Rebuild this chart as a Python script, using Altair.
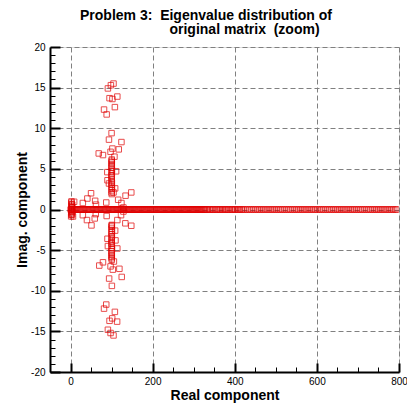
import altair as alt
import pandas as pd

# ---- data ----
# eigenvalues lying on the real axis (imag = 0)
real_axis_re = [0.3, 1.5, 3.2, 5.0, 7.4, 9.8, 12.1, 14.6, 17.0, 19.3, 21.9, 24.3, 26.7, 29.2, 31.8,
                34.1, 36.5, 39.0, 41.6, 43.9, 46.3, 48.8, 51.4, 53.7, 56.1, 58.6, 61.2, 63.5, 65.9,
                68.4, 71.0, 73.3, 75.7, 78.2, 80.8, 83.1, 85.5, 88.0, 90.6, 92.9, 95.3, 97.8, 100.4,
                102.7, 105.1, 107.6, 110.2, 112.5, 114.9, 117.4, 120.0, 122.3, 124.7, 127.2, 129.8,
                132.1, 134.5, 137.0, 139.6, 141.9, 144.3, 146.8, 149.4, 151.7, 154.1, 156.6, 159.2,
                161.5, 163.9, 166.4, 169.0, 171.3, 173.7, 176.2, 178.8, 181.1, 183.5, 186.0, 188.6,
                190.9, 193.3, 195.8, 198.4, 200.7, 203.1, 205.6, 208.2, 210.5, 212.9, 215.4, 218.0,
                220.3, 222.7, 225.2, 227.8, 230.1, 232.5, 235.0, 237.6, 239.9, 242.3, 244.8, 247.4,
                249.7, 252.1, 254.6, 257.2, 259.5, 261.9, 264.4, 267.0, 269.3, 271.7, 274.2, 276.8,
                279.1, 281.5, 284.0, 286.6, 288.9, 291.3, 293.8, 296.4, 298.7, 301.1, 303.6, 306.2,
                308.5, 310.9, 313.4, 316.0, 318.3, 320.7, 323.2, 325.8, 328.1,
                331, 334, 338, 341, 345, 348, 352, 356, 359, 363, 366, 370, 374, 377, 381, 384, 388,
                392, 395, 399, 402, 406, 410, 413, 417,
                421, 426, 431, 436, 441, 446, 451, 456, 461, 466, 471, 476, 481, 486, 491, 496, 501,
                506, 511, 516, 521, 526, 531, 536, 541, 546, 551, 556, 561, 566, 571, 576, 581, 586,
                591, 596, 601, 606, 611, 616, 621, 626, 631, 636, 641, 646, 651, 656, 661, 666, 671,
                676, 681, 686, 691, 696, 701, 706, 711, 716, 721, 726, 731, 736, 741, 746, 751, 756,
                761, 766, 771, 776, 781, 786, 791, 795]

# cluster near the origin
origin_re = [1.5, 2.0, 2.5, 1.8, 2.2, 3.0, 2.6, 1.9, 2.4, 4.0, 4.5, 3.8, 4.2]
origin_im = [-0.85, -0.65, -0.45, -0.25, 0.25, 0.45, 0.65, 0.85, 1.0, -0.6, -0.3, 0.3, 0.6]

# dense column near real part 100
column_re = [100.5, 99.8, 100.3, 100.9, 99.6, 100.2, 100.7, 99.9, 100.4, 100.1, 99.7, 100.6,
             100.0, 100.8, 99.5, 100.3, 100.6, 99.9, 100.2, 100.5,
             100.5, 99.8, 100.3, 100.9, 99.6, 100.2, 100.7, 99.9, 100.4, 100.1, 99.7, 100.6,
             100.0, 100.8, 99.5, 100.3, 100.6, 99.9, 100.2, 100.5]
column_im = [1.9, 2.1, 2.35, 2.6, 2.8, 3.05, 3.3, 3.5, 3.75, 4.0, 4.2, 4.45, 4.7, 4.9,
             5.15, 5.4, 5.6, 5.8, 6.0, 6.15,
             -1.9, -2.1, -2.35, -2.6, -2.8, -3.05, -3.3, -3.5, -3.75, -4.0, -4.2, -4.45, -4.7, -4.9,
             -5.15, -5.4, -5.6, -5.8, -6.0, -6.2]

# scattered complex eigenvalues
scatter_re = [104.7, 98.3, 91.0, 95.0, 102.0, 114.0, 108.0, 81.6, 88.0, 100.0, 93.6, 124.0,
              102.0, 68.7, 79.0, 97.5, 107.0, 117.5, 89.6, 111.0, 90.0, 93.6, 108.7, 104.7,
              134.0, 148.0, 50.0, 41.0, 30.0, 8.8, 60.0, 62.0, 87.0, 116.0, 124.0, 128.8,
              104.7, 97.5, 91.0, 95.0, 101.5, 113.5, 108.0, 81.6, 87.0, 100.7, 94.0, 124.7,
              103.0, 70.0, 79.0, 97.5, 105.6, 119.0, 91.0, 114.0, 90.0, 109.5, 108.7, 100.7,
              133.5, 148.0, 51.0, 40.0, 30.0, 6.0, 59.0, 61.5, 88.0, 114.0, 123.0, 128.8]
scatter_im = [15.5, 15.3, 14.9, 13.7, 13.6, 13.9, 12.6, 12.3, 11.7, 9.4, 8.6, 8.3,
              7.5, 6.9, 6.7, 7.1, 6.5, 7.4, 4.6, 4.7, 3.6, 3.2, 2.6, 2.1,
              1.7, 2.1, 2.0, 1.35, 0.8, 0.95, 1.07, 0.6, 0.86, 1.2, 0.8, 0.25,
              -15.5, -15.2, -14.8, -13.7, -13.4, -13.8, -12.6, -12.2, -11.7, -9.4, -8.5, -8.3,
              -7.4, -6.9, -6.5, -7.0, -6.4, -7.3, -4.5, -4.8, -3.6, -3.8, -2.6, -1.96,
              -1.7, -2.0, -1.96, -1.3, -0.7, -0.86, -1.1, -0.57, -0.8, -1.3, -0.7, -0.25]

x_major = [0, 200, 400, 600, 800]
x_minor = [50, 100, 150, 250, 300, 350, 450, 500, 550, 650, 700, 750]
y_major = [-20, -15, -10, -5, 0, 5, 10, 15, 20]
y_minor = [v for v in range(-19, 20) if v % 5 != 0]

title_line1 = "Problem 3:\u00a0\u00a0Eigenvalue distribution of"
title_line2 = "original matrix\u00a0\u00a0(zoom)"

re_all = real_axis_re + origin_re + column_re + scatter_re
im_all = [0.0] * len(real_axis_re) + origin_im + column_im + scatter_im
df = pd.DataFrame({"re": re_all, "im": im_all})

FONT = "Liberation Sans"
xs = alt.Scale(domain=[-50, 800], nice=False, zero=False)
ys = alt.Scale(domain=[-20, 20], nice=False, zero=False)

main_x = alt.Axis(orient="bottom", values=x_major, ticks=False, domainColor="black", domainWidth=2,
                  grid=True, gridColor="#808080", gridDash=[5, 3], gridWidth=1,
                  labelFont=FONT, labelFontSize=10, labelColor="black", labelPadding=4,
                  labelFlush=False, labelOverlap=False, labelBound=False,
                  title="Real component", titleFont=FONT, titleFontSize=14, titleFontWeight="bold",
                  titleColor="black", titlePadding=2)
main_y = alt.Axis(orient="left", values=y_major, ticks=False, domainColor="black", domainWidth=2,
                  grid=True, gridColor="#808080", gridDash=[5, 3], gridWidth=1,
                  labelFont=FONT, labelFontSize=10, labelColor="black", labelPadding=5,
                  labelFlush=False, labelOverlap=False, labelBound=False,
                  labelExpr="datum.value < 0 ? '-' + (-datum.value) : '' + datum.value",
                  title="Imag. component", titleFont=FONT, titleFontSize=14, titleFontWeight="bold",
                  titleColor="black", titlePadding=1)

points = alt.Chart(df).mark_point(shape="square", filled=False, size=30, stroke="#e00000",
                                  strokeWidth=1, clip=True).encode(
    x=alt.X("re:Q", scale=xs, axis=main_x),
    y=alt.Y("im:Q", scale=ys, axis=main_y),
)


def tick_axis(orient, values, size, width):
    return alt.Axis(orient=orient, values=values, offset=-size, tickSize=size, tickWidth=width,
                    tickColor="black", domain=False, labels=False, grid=False, title="")


major = alt.Chart(df).mark_point(opacity=0).encode(
    x=alt.X("re:Q", scale=xs, axis=tick_axis("bottom", x_major, 9, 2)),
    y=alt.Y("im:Q", scale=ys, axis=tick_axis("left", y_major, 10, 2)),
)
minor = alt.Chart(df).mark_point(opacity=0).encode(
    x=alt.X("re:Q", scale=xs, axis=tick_axis("bottom", x_minor, 5, 1)),
    y=alt.Y("im:Q", scale=ys, axis=tick_axis("left", y_minor, 5, 1)),
)

title = alt.TitleParams(
    text=[title_line1, "\u200b" + "\u00a0" * 23 + title_line2],
    anchor="start", align="left", frame="group", dx=30, fontSize=14, font=FONT,
    fontWeight="bold", color="black", lineHeight=14, offset=5)

chart = alt.layer(points, major, minor).resolve_axis(x="independent", y="independent").properties(
    width=349, height=325, title=title,
    autosize=alt.AutoSizeParams(type="none"),
    padding={"left": 42, "top": 39, "right": 8, "bottom": 36},
).configure_view(strokeWidth=0).configure(background="white")

chart.save("out.html", embed_options={"renderer": "svg", "actions": False})
